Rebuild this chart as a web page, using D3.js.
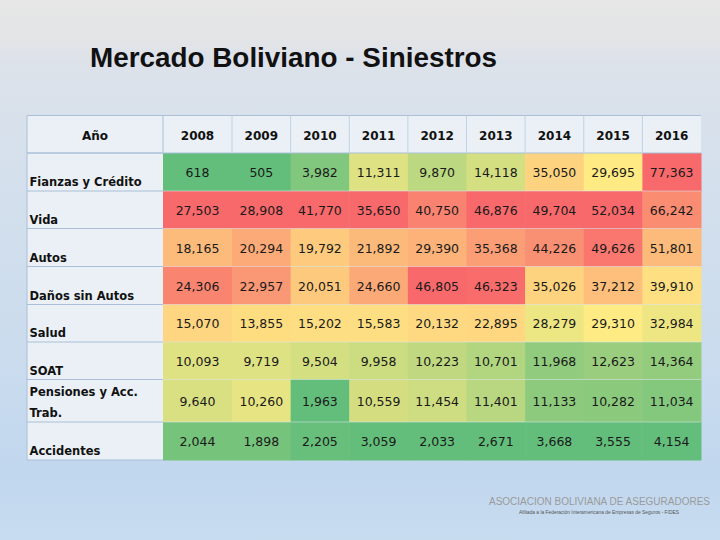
<!DOCTYPE html>
<html><head><meta charset="utf-8">
<script src="https://cdnjs.cloudflare.com/ajax/libs/d3/7.8.5/d3.min.js"></script>
<style>html,body{margin:0;padding:0;}svg{display:block;}</style>
</head><body>
<svg id="chart" width="720" height="540"></svg>
<script>
// ---- data ----
const title = "Mercado Boliviano - Siniestros";
const headerLabel = "Año";
const years = ["2008","2009","2010","2011","2012","2013","2014","2015","2016"];
const categories = ["Fianzas y Crédito","Vida","Autos","Daños sin Autos","Salud","SOAT","Pensiones y Acc. Trab.","Accidentes"];
const fianzas   = [618, 505, 3982, 11311, 9870, 14118, 35050, 29695, 77363];
const vida      = [27503, 28908, 41770, 35650, 40750, 46876, 49704, 52034, 66242];
const autos     = [18165, 20294, 19792, 21892, 29390, 35368, 44226, 49626, 51801];
const danos     = [24306, 22957, 20051, 24660, 46805, 46323, 35026, 37212, 39910];
const salud     = [15070, 13855, 15202, 15583, 20132, 22895, 28279, 29310, 32984];
const soat      = [10093, 9719, 9504, 9958, 10223, 10701, 11968, 12623, 14364];
const pensiones = [9640, 10260, 1963, 10559, 11454, 11401, 11133, 10282, 11034];
const accidentes= [2044, 1898, 2205, 3059, 2033, 2671, 3668, 3555, 4154];
const seriesRows = [fianzas, vida, autos, danos, salud, soat, pensiones, accidentes];
const logoTitle = "ASOCIACION BOLIVIANA DE ASEGURADORES";
const logoSub = "Afiliada a la Federación Interamericana de Empresas de Seguros - FIDES";

// ---- layout ----
const W = 720, H = 540;
const svg = d3.select("#chart");
const defs = svg.append("defs");
const bg = defs.append("linearGradient").attr("id","bg").attr("x1",0).attr("y1",0).attr("x2",0).attr("y2",1);
[[0,"#e7e7e7"],[0.07,"#e3e4e6"],[0.11,"#dde2ea"],[0.3,"#d5e0ec"],[0.7,"#c9dbee"],[0.88,"#c1d7ee"],[1,"#c8dcf0"]]
  .forEach(([o,c])=>bg.append("stop").attr("offset",o).attr("stop-color",c));
svg.append("rect").attr("width",W).attr("height",H).attr("fill","url(#bg)");

svg.append("text").attr("x",90).attr("y",67)
  .attr("font-family","'Liberation Sans', Arial, sans-serif").attr("font-weight","bold")
  .attr("font-size",28).attr("fill","#111").attr("textLength",407).attr("lengthAdjust","spacingAndGlyphs")
  .text(title);

const tableLeft = 27, labelRight = 163, firstColRight = 232, tableRight = 701;
const headerTop = 115.5, headerBottom = 153;
const rowHeights = [38, 37.5, 38, 38, 37.5, 37.5, 42.5, 38];
const rowTops = [];
rowHeights.reduce((acc,h)=>{rowTops.push(acc); return acc+h;}, headerBottom);
const tableBottom = headerBottom + d3.sum(rowHeights);

// column scale: first year column wider, remaining via band scale
const xRest = d3.scaleBand().domain(years.slice(1)).range([firstColRight, tableRight]);
const colX = y => y === years[0] ? labelRight : xRest(y);
const colW = y => y === years[0] ? (firstColRight - labelRight) : xRest.bandwidth();

const cellBg = "#eaf0f5", border = "#a9c0d8";

// header
svg.append("rect").attr("x",tableLeft).attr("y",headerTop).attr("width",tableRight-tableLeft).attr("height",headerBottom-headerTop).attr("fill",cellBg);
// label column bg
svg.append("rect").attr("x",tableLeft).attr("y",headerBottom).attr("width",labelRight-tableLeft).attr("height",tableBottom-headerBottom).attr("fill",cellBg);

// per-column colour scales (min green, median yellow, max red)
const colorScales = years.map((y,j)=>{
  const col = seriesRows.map(r=>r[j]);
  return d3.scaleLinear().domain([d3.min(col), d3.median(col), d3.max(col)])
    .range(["#63be7b","#ffeb84","#f8696b"]).interpolate(d3.interpolateRgb);
});

const cells = [];
seriesRows.forEach((r,i)=>r.forEach((v,j)=>cells.push({i,j,v})));
svg.append("g").selectAll("rect").data(cells).join("rect")
  .attr("x",d=>colX(years[d.j])).attr("y",d=>rowTops[d.i])
  .attr("width",d=>colW(years[d.j])+0.5).attr("height",d=>rowHeights[d.i]+0.5)
  .attr("fill",d=>colorScales[d.j](d.v));

// grid lines
const g = svg.append("g");
// horizontal separators
rowTops.concat([tableBottom]).forEach((y,k)=>{
  g.append("line").attr("x1",tableLeft).attr("x2",labelRight).attr("y1",y).attr("y2",y).attr("stroke",border).attr("stroke-width",1);
  if(k>0 && k<rowTops.length)
    g.append("line").attr("x1",labelRight).attr("x2",tableRight).attr("y1",y).attr("y2",y).attr("stroke","#dce6ef").attr("stroke-opacity",0.55).attr("stroke-width",1);
});
g.append("line").attr("x1",tableLeft).attr("x2",tableRight).attr("y1",headerTop).attr("y2",headerTop).attr("stroke",border);
g.append("line").attr("x1",tableLeft).attr("x2",tableRight).attr("y1",headerBottom).attr("y2",headerBottom).attr("stroke",border);
g.append("line").attr("x1",tableLeft).attr("x2",tableLeft).attr("y1",headerTop).attr("y2",tableBottom).attr("stroke",border);
g.append("line").attr("x1",labelRight).attr("x2",labelRight).attr("y1",headerTop).attr("y2",headerBottom).attr("stroke",border);
years.forEach(y=>{
  const x = colX(y)+colW(y);
  if (x < tableRight-1) g.append("line").attr("x1",x).attr("x2",x).attr("y1",headerTop).attr("y2",headerBottom).attr("stroke","#c2d2e2");
});

const font = "'DejaVu Sans', Verdana, sans-serif";
// header texts
svg.append("text").attr("x",(tableLeft+labelRight)/2).attr("y",139.5).attr("text-anchor","middle")
  .attr("font-family",font).attr("font-weight","bold").attr("font-size",12).attr("fill","#111").text(headerLabel);
svg.append("g").selectAll("text").data(years).join("text")
  .attr("x",y=>colX(y)+colW(y)/2).attr("y",139.5).attr("text-anchor","middle")
  .attr("font-family",font).attr("font-weight","bold").attr("font-size",12).attr("fill","#111").text(y=>y);

// row labels (bottom aligned, wrapped)
categories.forEach((c,i)=>{
  const bottom = rowTops[i]+rowHeights[i];
  const lines = c === "Pensiones y Acc. Trab." ? ["Pensiones y Acc.","Trab."] : [c];
  lines.forEach((ln,k)=>{
    svg.append("text").attr("x",29.5).attr("y",bottom-5-(lines.length-1-k)*21)
      .attr("font-family",font).attr("font-weight","bold").attr("font-size",11.5).attr("fill","#111").text(ln);
  });
});

// numbers
const fmt = d3.format(",");
svg.append("g").selectAll("text").data(cells).join("text")
  .attr("x",d=>colX(years[d.j])+colW(years[d.j])/2)
  .attr("y",d=>rowTops[d.i]+rowHeights[d.i]/2+5)
  .attr("text-anchor","middle").attr("font-family",font).attr("font-size",12.5).attr("fill","#1a1a1a")
  .text(d=>fmt(d.v));

// logo
svg.append("text").attr("x",489).attr("y",505).attr("font-family","'Liberation Sans', Arial, sans-serif")
  .attr("font-size",10).attr("fill","#9a9a9a").attr("textLength",221).attr("lengthAdjust","spacingAndGlyphs").text(logoTitle);
svg.append("text").attr("x",519).attr("y",514).attr("font-family","'Liberation Sans', Arial, sans-serif")
  .attr("font-size",5).attr("fill","#555").attr("textLength",160).attr("lengthAdjust","spacingAndGlyphs").text(logoSub);
</script>
</body></html>
